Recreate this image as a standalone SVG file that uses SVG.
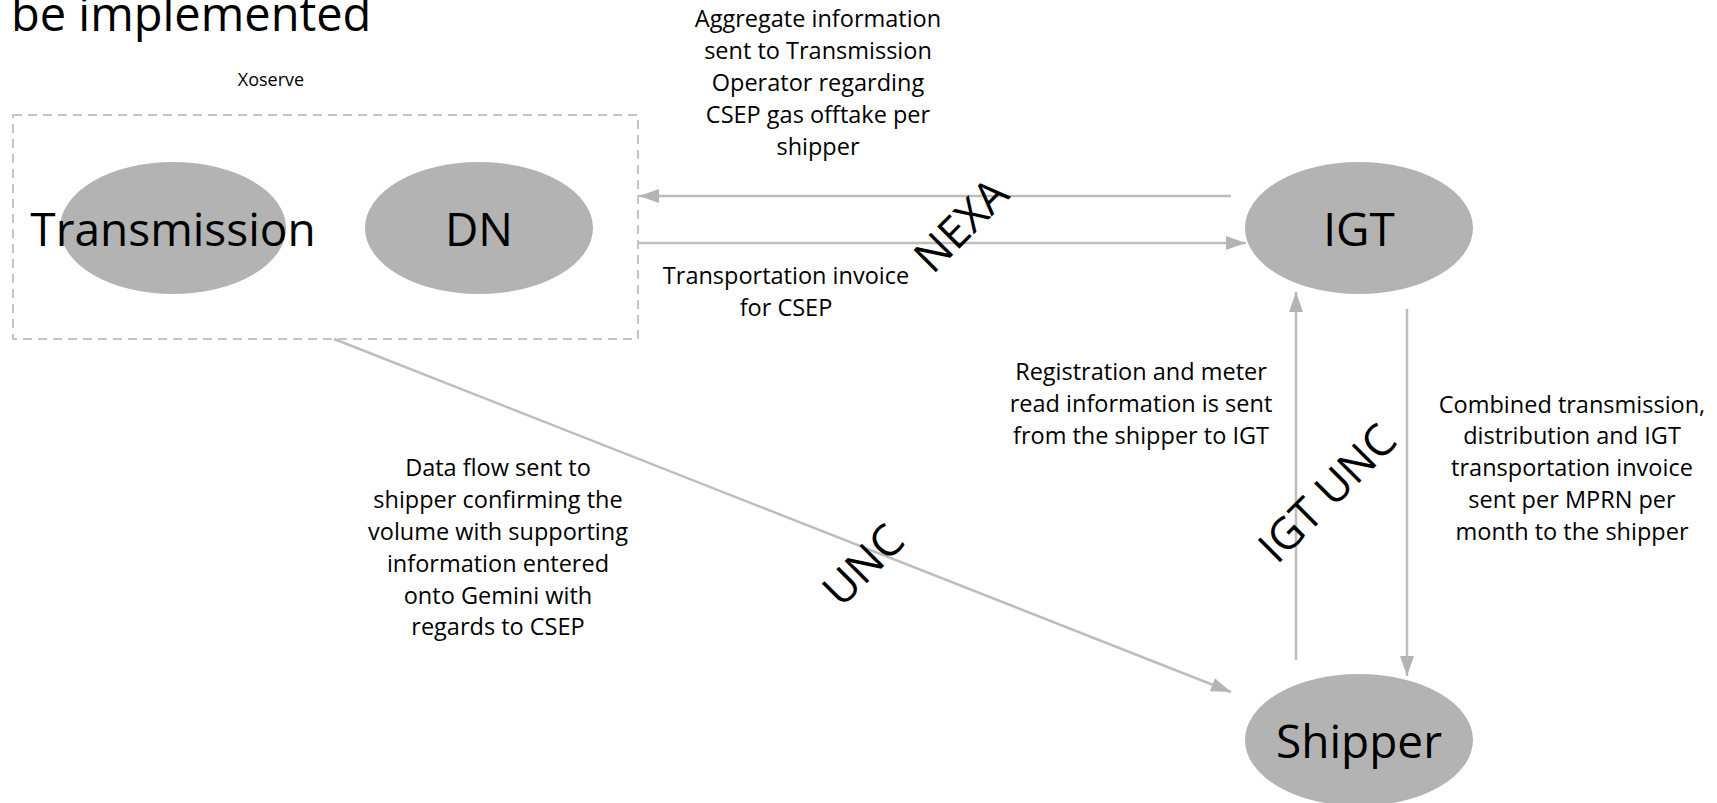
<svg xmlns="http://www.w3.org/2000/svg" width="1717" height="803" viewBox="0 0 1717 803">
<style>
.node{fill:#b3b3b3}
.big{font-family:"Open Sans","Noto Sans",sans-serif;fill:#000;text-anchor:middle;dominant-baseline:central}
.lbl{font-family:"Open Sans","Noto Sans",sans-serif;font-size:23.5px;fill:#000;text-anchor:middle}
.conn{stroke:#bdbdbd;stroke-width:2.5;fill:none}
</style>
<defs>
<marker id="ah" viewBox="0 0 20 14" refX="20" refY="7" markerWidth="20" markerHeight="14" markerUnits="userSpaceOnUse" orient="auto">
<path d="M0,0 L20,7 L0,14 Z" fill="#b4b4b4"/>
</marker>
</defs>
<rect width="1717" height="803" fill="#fff"/>
<text x="11" y="31" style="font-family:'Open Sans','Noto Sans',sans-serif;font-size:47px;fill:#000">be implemented</text>
<g id="xoserve">
<rect x="13" y="115" width="625" height="224" fill="none" stroke="#c4c4c4" stroke-width="2" stroke-dasharray="9,6"/>
<text x="271" y="86" style="font-family:'Open Sans','Noto Sans',sans-serif;font-size:18px;fill:#000;text-anchor:middle">Xoserve</text>
</g>
<g id="transmission">
<ellipse class="node" cx="173" cy="228" rx="113" ry="66"/>
<text class="big" x="173" y="228" font-size="46">Transmission</text>
</g>
<g id="dn">
<ellipse class="node" cx="479" cy="228" rx="114" ry="66"/>
<text class="big" x="479" y="228" font-size="46">DN</text>
</g>
<g id="igt">
<ellipse class="node" cx="1359" cy="228" rx="114" ry="66"/>
<text class="big" x="1359" y="228" font-size="46">IGT</text>
</g>
<g id="shipper">
<ellipse class="node" cx="1359" cy="740" rx="114" ry="66"/>
<text class="big" x="1359" y="740" font-size="46">Shipper</text>
</g>
<g id="connectors">
<line class="conn" x1="1231" y1="196" x2="639" y2="196" marker-end="url(#ah)"/>
<line class="conn" x1="639" y1="243" x2="1246" y2="243" marker-end="url(#ah)"/>
<line class="conn" x1="1296" y1="660" x2="1296" y2="292" marker-end="url(#ah)"/>
<line class="conn" x1="1407" y1="309" x2="1407" y2="676" marker-end="url(#ah)"/>
<line class="conn" x1="334" y1="339" x2="1231" y2="692" marker-end="url(#ah)"/>
<text class="lbl"><tspan x="818" y="27">Aggregate information</tspan><tspan x="818" y="59">sent to Transmission</tspan><tspan x="818" y="91">Operator regarding</tspan><tspan x="818" y="123">CSEP gas offtake per</tspan><tspan x="818" y="155">shipper</tspan></text>
<text class="big" font-size="44" transform="translate(960,224) rotate(-45)">NEXA</text>
<text class="lbl"><tspan x="786" y="284">Transportation invoice</tspan><tspan x="786" y="316">for CSEP</tspan></text>
<text class="lbl"><tspan x="1141" y="380">Registration and meter</tspan><tspan x="1141" y="412">read information is sent</tspan><tspan x="1141" y="444">from the shipper to IGT</tspan></text>
<text class="big" font-size="44" transform="translate(1326,492) rotate(-45)">IGT UNC</text>
<text class="lbl"><tspan x="1572" y="413">Combined transmission,</tspan><tspan x="1572" y="444">distribution and IGT</tspan><tspan x="1572" y="476">transportation invoice</tspan><tspan x="1572" y="508">sent per MPRN per</tspan><tspan x="1572" y="540">month to the shipper</tspan></text>
<text class="lbl"><tspan x="498" y="476">Data flow sent to</tspan><tspan x="498" y="508">shipper confirming the</tspan><tspan x="498" y="540">volume with supporting</tspan><tspan x="498" y="572">information entered</tspan><tspan x="498" y="604">onto Gemini with</tspan><tspan x="498" y="635">regards to CSEP</tspan></text>
<text class="big" font-size="44" transform="translate(862,564) rotate(-45)">UNC</text>
</g>
</svg>
